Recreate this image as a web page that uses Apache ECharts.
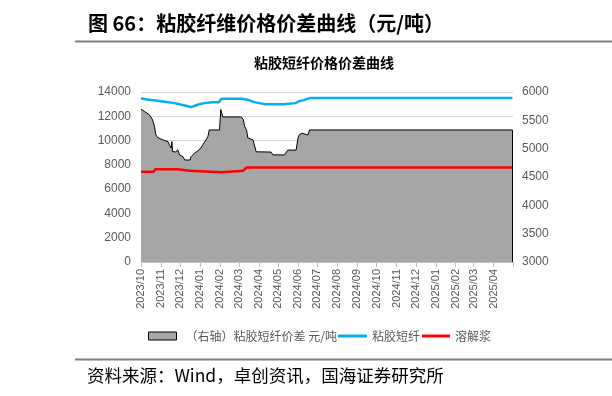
<!DOCTYPE html>
<html>
<head>
<meta charset="utf-8">
<script src="https://cdn.jsdelivr.net/npm/echarts@6/dist/echarts.min.js"></script>
<style>
  html, body { margin: 0; padding: 0; background: #fff; }
  #chart { width: 612px; height: 396px; }
</style>
</head>
<body>
<div id="chart"></div>
<script>
// ---- Data ----
const titleText = '图 66：粘胶纤维价格价差曲线（元/吨）';
const chartTitle = '粘胶短纤价格价差曲线';
const sourceText = '资料来源：Wind，卓创资讯，国海证券研究所';

const seriesNames = ['（右轴）粘胶短纤价差 元/吨', '粘胶短纤', '溶解浆'];

const xMin = '2023-10-01';
const xMax = '2025-05-01';

// Spread (right axis)
const spreadDates = ['2023-10-01','2023-10-06','2023-10-14','2023-10-19','2023-10-22','2023-10-24','2023-10-27',
  '2023-11-04','2023-11-12','2023-11-14','2023-11-17','2023-11-18','2023-11-19','2023-11-24','2023-11-27','2023-11-30',
  '2023-12-02','2023-12-05','2023-12-08','2023-12-16','2023-12-18','2023-12-23','2023-12-28',
  '2024-01-02','2024-01-05','2024-01-10','2024-01-13','2024-01-15','2024-01-31',
  '2024-02-02','2024-02-05','2024-03-05','2024-03-08','2024-03-10','2024-03-13','2024-03-15','2024-03-23','2024-03-28',
  '2024-04-20','2024-04-23','2024-05-11','2024-05-16','2024-05-29',
  '2024-06-01','2024-06-03','2024-06-07','2024-06-09','2024-06-16','2024-06-19','2025-04-30'];
const spreadValues = [5700,5660,5600,5510,5390,5245,5195,
  5155,5125,5070,5010,5125,4950,4940,4980,4890,
  4920,4860,4800,4800,4860,4920,4960,
  5010,5070,5155,5215,5330,5330,
  5690,5560,5560,5510,5390,5330,5190,5155,4945,
  4940,4890,4890,4975,4975,
  5190,5245,5275,5240,5240,5330,5330];

// Viscose staple fibre price (left axis)
const viscoseDates = ['2023-10-01','2023-10-08','2023-10-14','2023-11-04','2023-11-22','2023-12-08','2023-12-18','2023-12-28',
  '2024-01-07','2024-01-20','2024-01-30','2024-02-03','2024-03-05','2024-03-15','2024-03-25','2024-04-10',
  '2024-05-10','2024-05-28','2024-06-03','2024-06-10','2024-06-19','2025-04-30'];
const viscoseValues = [13480,13400,13356,13220,13084,12886,12760,12950,
  13084,13150,13166,13450,13440,13356,13166,13000,
  13000,13084,13250,13330,13500,13500];

// Dissolving pulp price (left axis)
const pulpDates = ['2023-10-01','2023-10-21','2023-10-23','2023-11-26','2023-11-28','2023-12-16','2023-12-18',
  '2024-02-03','2024-02-05','2024-03-08','2024-03-13','2025-04-30'];
const pulpValues = [7430,7430,7630,7630,7520,7520,7390,
  7390,7520,7520,7780,7780];

// Axis scales
const leftMin = 0, leftMax = 14000, leftStep = 2000;
const rightMin = 3000, rightMax = 6000, rightStep = 500;

const colors = { spread: '#a6a6a6', viscose: '#00b0f0', pulp: '#ff0000' };

// ---- Build ----
const zip = (d, v) => d.map((x, i) => [x, v[i]]);
const spreadData = zip(spreadDates, spreadValues);
const viscoseData = zip(viscoseDates, viscoseValues);
const pulpData = zip(pulpDates, pulpValues);
const lastSpreadDate = spreadDates[spreadDates.length - 1];
const lastSpreadValue = spreadValues[spreadValues.length - 1];

const fontCJK = '"Noto Sans CJK SC", "Noto Sans", sans-serif';
const fontNum = '"Liberation Sans", Arial, sans-serif';
const maxTs = echarts.time.parse(xMax).getTime();
const plainNum = v => String(v);

const chart = echarts.init(document.getElementById('chart'), null, { renderer: 'canvas' });
const legendText = { fontSize: 12, color: '#595959', fontFamily: fontCJK, lineHeight: 14 };

chart.setOption({
  animation: false,
  backgroundColor: '#ffffff',
  grid: { left: 141, right: 99, top: 92, height: 170, containLabel: false },
  legend: [
    { left: 148, top: 329, itemWidth: 28, itemHeight: 8, padding: 0,
      textStyle: Object.assign({ padding: [0, 0, 0, 4] }, legendText),
      data: [{ name: seriesNames[0], icon: 'rect', itemStyle: { color: colors.spread, borderColor: '#000', borderWidth: 1 } }] },
    { left: 338, top: 329, itemWidth: 29, itemHeight: 3, padding: 0, textStyle: legendText, itemGap: 0,
      data: [{ name: seriesNames[1], icon: 'rect', itemStyle: { color: colors.viscose, borderWidth: 0 } }] },
    { left: 422, top: 329, itemWidth: 28, itemHeight: 3, padding: 0, textStyle: legendText, itemGap: 0,
      data: [{ name: seriesNames[2], icon: 'rect', itemStyle: { color: colors.pulp, borderWidth: 0 } }] }
  ],
  xAxis: {
    type: 'time',
    min: xMin,
    max: xMax,
    minInterval: 28 * 86400000,
    maxInterval: 31 * 86400000,
    splitNumber: 19,
    axisLine: { show: true, lineStyle: { color: '#bfbfbf', width: 1 } },
    axisTick: { show: true, length: 5, lineStyle: { color: '#bfbfbf' } },
    splitLine: { show: false },
    axisLabel: {
      rotate: 90, fontSize: 11, color: '#595959', fontFamily: fontNum, margin: 7,
      hideOverlap: false, showMinLabel: true, showMaxLabel: false,
      formatter: function (val) {
        if (val >= maxTs) return '';
        const d = new Date(val);
        return d.getFullYear() + '/' + String(d.getMonth() + 1).padStart(2, '0');
      }
    }
  },
  yAxis: [
    { type: 'value', min: leftMin, max: leftMax, interval: leftStep, position: 'left',
      axisLine: { show: false }, axisTick: { show: false },
      splitLine: { show: true, lineStyle: { color: '#d9d9d9', width: 1 } },
      axisLabel: { fontSize: 12, color: '#595959', fontFamily: fontNum, margin: 10, formatter: plainNum } },
    { type: 'value', min: rightMin, max: rightMax, interval: rightStep, position: 'right',
      axisLine: { show: false }, axisTick: { show: false }, splitLine: { show: false },
      axisLabel: { fontSize: 12, color: '#595959', fontFamily: fontNum, margin: 9, formatter: plainNum } }
  ],
  series: [
    { name: seriesNames[0], type: 'line', yAxisIndex: 1, data: spreadData, symbol: 'none', z: 1,
      itemStyle: { color: colors.spread },
      lineStyle: { color: '#000000', width: 1 },
      areaStyle: { color: colors.spread, opacity: 1, origin: 'start' },
      markLine: { silent: true, symbol: 'none', label: { show: false },
        lineStyle: { color: '#000000', width: 1, type: 'solid' },
        data: [[{ coord: [lastSpreadDate, rightMin] }, { coord: [lastSpreadDate, lastSpreadValue] }]] } },
    { name: seriesNames[1], type: 'line', yAxisIndex: 0, data: viscoseData, symbol: 'none', z: 3,
      itemStyle: { color: colors.viscose }, lineStyle: { color: colors.viscose, width: 2.5 } },
    { name: seriesNames[2], type: 'line', yAxisIndex: 0, data: pulpData, symbol: 'none', z: 3,
      itemStyle: { color: colors.pulp }, lineStyle: { color: colors.pulp, width: 2.5 } }
  ],
  graphic: [
    { type: 'text', left: 88, top: 13, style: { text: titleText, font: 'bold 20px ' + fontCJK, fill: '#000' } },
    { type: 'line', shape: { x1: 75, y1: 41.5, x2: 612, y2: 41.5 }, style: { stroke: '#7f7f7f', lineWidth: 2 } },
    { type: 'text', x: 324, y: 63, style: { text: chartTitle, font: 'bold 14px ' + fontCJK, fill: '#000', textAlign: 'center', textVerticalAlign: 'middle' } },
    { type: 'line', shape: { x1: 75, y1: 359.5, x2: 612, y2: 359.5 }, style: { stroke: '#7f7f7f', lineWidth: 2 } },
    { type: 'text', x: 87, y: 375, style: { text: sourceText, font: '17.5px ' + fontCJK, fill: '#000', textVerticalAlign: 'middle' } }
  ]
});
</script>
</body>
</html>
